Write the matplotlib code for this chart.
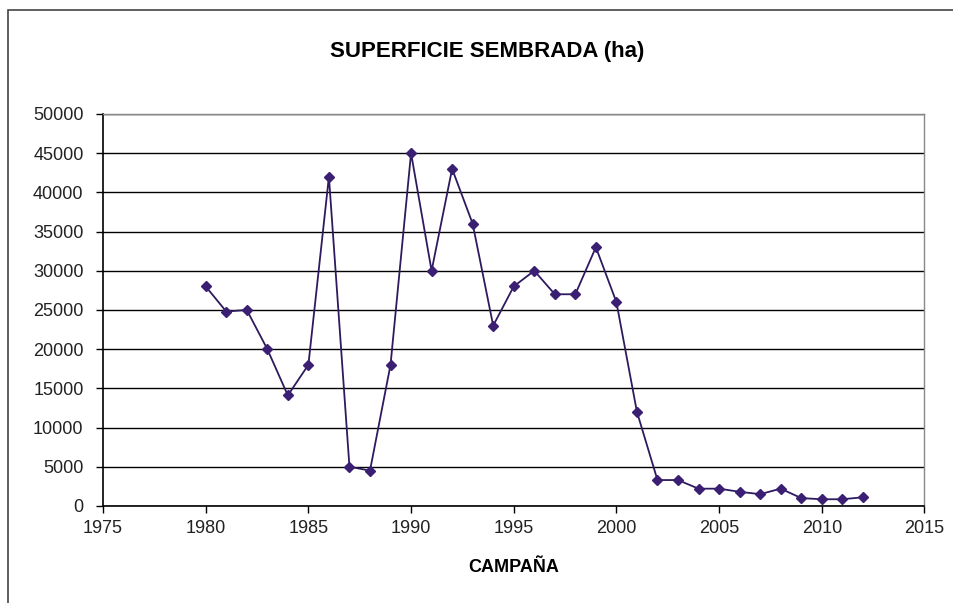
import numpy as np
import matplotlib.pyplot as plt
from matplotlib.patches import Rectangle

plt.rcParams['font.family'] = ['Liberation Sans', 'DejaVu Sans']

# datos
campana = [1980, 1981, 1982, 1983, 1984, 1985, 1986, 1987, 1988, 1989,
           1990, 1991, 1992, 1993, 1994, 1995, 1996, 1997, 1998, 1999,
           2000, 2001, 2002, 2003, 2004, 2005, 2006, 2007, 2008, 2009,
           2010, 2011, 2012]
superficie = [28000, 24800, 25000, 20000, 14100, 18000, 42000, 5000, 4500, 18000,
              45000, 30000, 43000, 36000, 23000, 28000, 30000, 27000, 27000, 33000,
              26000, 12000, 3300, 3300, 2200, 2200, 1800, 1500, 2200, 1000,
              850, 850, 1100]
xticks = np.arange(1975, 2016, 5)
yticks = np.arange(0, 50001, 5000)

fig = plt.figure(figsize=(9.54, 6.03), dpi=100)
ax = fig.add_axes([0.108, 0.161, 0.861, 0.650])

ax.plot(campana, superficie, color='#2e1a5e', lw=1.3, marker='D', ms=5,
        mfc='#3a1f73', mec='#3a1f73', zorder=3)

ax.set_xlim(1975, 2015)
ax.set_ylim(0, 50000)
ax.set_xticks(xticks)
ax.set_yticks(yticks)
ax.yaxis.grid(True, color='black', lw=1.0)
ax.set_axisbelow(True)
ax.tick_params(axis='both', direction='out', length=5, width=1, labelsize=13,
               color='black', labelcolor='#222222')
ax.tick_params(axis='y', pad=9)
ax.tick_params(axis='x', pad=5)

for s in ['top', 'right']:
    ax.spines[s].set_color('#888888')
    ax.spines[s].set_linewidth(1)
for s in ['left', 'bottom']:
    ax.spines[s].set_color('black')
    ax.spines[s].set_linewidth(1.2)

fig.text(487 / 954, 1 - 52 / 603, 'SUPERFICIE SEMBRADA (ha)', fontsize=16,
         fontweight='bold', ha='center', va='center')
ax.set_xlabel('CAMPAÑA', fontsize=13, fontweight='bold', labelpad=16)

# marco exterior del grafico
fig.patches.append(Rectangle((8 / 954, -0.05), 1.2, 1 - 10 / 603 + 0.05,
                             transform=fig.transFigure, fill=False,
                             ec='#444444', lw=1.2))

fig.savefig('out.png', dpi=100)
